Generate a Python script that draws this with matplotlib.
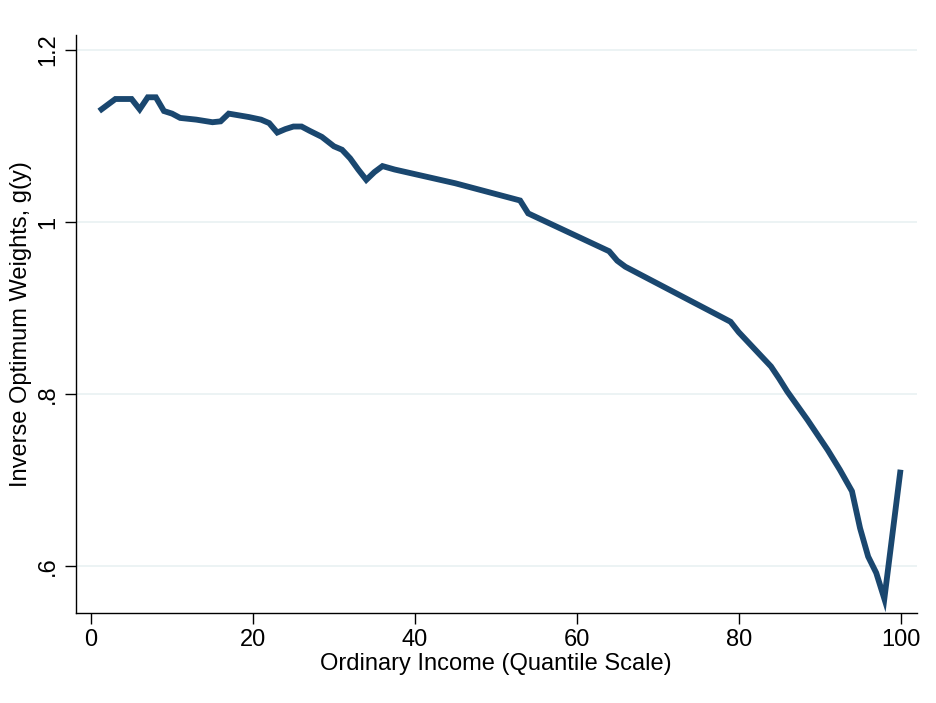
import matplotlib
matplotlib.use("Agg")
import matplotlib.pyplot as plt

# quantile of ordinary income and inverse optimum weights
quantile = [1, 3, 5, 6, 7, 8, 9, 10, 11, 13, 15, 16, 17, 19.5, 21, 22, 23, 24,
            25, 26, 27, 28.5, 30, 31, 32, 33, 34, 35, 36, 37.5, 45, 53, 54, 64,
            65, 66, 79, 80, 84, 85, 86, 88.5, 91, 92.5, 94, 95, 96, 97, 98, 100]
weights = [1.129, 1.143, 1.143, 1.131, 1.145, 1.145, 1.129, 1.126, 1.121, 1.119,
           1.116, 1.117, 1.126, 1.122, 1.119, 1.115, 1.104, 1.108, 1.111, 1.111,
           1.106, 1.099, 1.088, 1.084, 1.074, 1.061, 1.049, 1.058, 1.065, 1.061,
           1.045, 1.025, 1.010, 0.966, 0.955, 0.948, 0.884, 0.872, 0.832, 0.818,
           0.803, 0.770, 0.735, 0.712, 0.687, 0.644, 0.611, 0.592, 0.562, 0.712]

xticks = [0, 20, 40, 60, 80, 100]
yticks = [0.6, 0.8, 1.0, 1.2]
ytick_labels = [".6", ".8", "1", "1.2"]

plt.rcParams["font.family"] = ["Liberation Sans", "DejaVu Sans"]

fig = plt.figure(figsize=(9.36, 7.03), dpi=100)
ax = fig.add_axes([0.0809, 0.1284, 0.8985, 0.8218])

ax.plot(quantile, weights, color="#1a476f", lw=4.2, solid_joinstyle="miter",
        solid_capstyle="butt", zorder=3)

ax.set_xlim(-1.9, 102.0)
ax.set_ylim(0.5457, 1.2174)
ax.set_xticks(xticks)
ax.set_yticks(yticks)
ax.set_yticklabels(ytick_labels, rotation=90, va="center")
ax.grid(axis="y", color="#eaf2f3", lw=1.3, zorder=0)
ax.grid(axis="x", visible=False)

for side in ["top", "right"]:
    ax.spines[side].set_visible(False)
for side in ["left", "bottom"]:
    ax.spines[side].set_linewidth(1.0)
    ax.spines[side].set_color("black")

ax.tick_params(axis="both", labelsize=17, length=8, width=1.0, direction="out")
ax.tick_params(axis="x", pad=4)
ax.tick_params(axis="y", pad=4)

ax.set_xlabel("Ordinary Income (Quantile Scale)", fontsize=17, labelpad=1)
ax.set_ylabel("Inverse Optimum Weights, g(y)", fontsize=17, labelpad=4)

fig.savefig("out.png", dpi=100)
